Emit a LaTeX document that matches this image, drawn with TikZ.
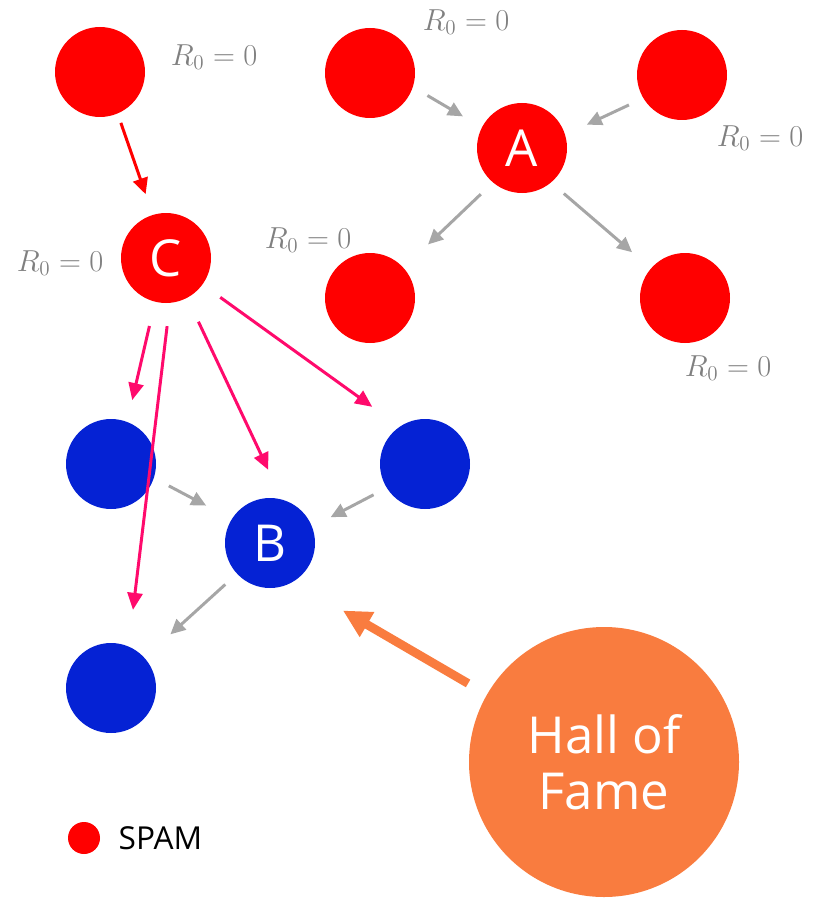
\documentclass[tikz,border=0pt]{standalone}
\usepackage{fontspec}
\setmainfont{Open Sans}
\usetikzlibrary{arrows.meta,positioning}
\definecolor{spamred}{HTML}{FF0000}
\definecolor{goodblue}{HTML}{0522D4}
\definecolor{linkpink}{HTML}{FF0A6C}
\definecolor{hoforange}{HTML}{F97C3F}
\definecolor{arrgray}{HTML}{A6A6A6}
\definecolor{lblgray}{HTML}{808080}
\begin{document}
\begin{tikzpicture}[
    spam/.style={circle, fill=spamred, minimum size=1.8cm, inner sep=0pt, outer sep=0pt, text=white, font=\fontsize{29}{32}\selectfont},
    good/.style={circle, fill=goodblue, minimum size=1.8cm, inner sep=0pt, outer sep=0pt, text=white, font=\fontsize{29}{32}\selectfont},
    rlbl/.style={text=lblgray, font=\fontsize{17.5}{20}\selectfont, inner sep=0pt},
    grayarr/.style={-{Triangle[length=0.3cm, width=0.28cm]}, line width=1.7pt, arrgray},
    redarr/.style={-{Triangle[length=0.32cm, width=0.3cm]}, line width=1.7pt, spamred},
    pinkarr/.style={-{Triangle[length=0.34cm, width=0.3cm]}, line width=1.7pt, linkpink}
]
\useasboundingbox (0,0) rectangle (16.26,-17.96);

% spam nodes
\node[spam] (tl) at (2.00,-1.44) {};
\node[spam] (t2) at (7.40,-1.46) {};
\node[spam] (t3) at (13.64,-1.50) {};
\node[spam] (A) at (10.44,-2.96) {A};
\node[spam] (C) at (3.32,-5.16) {C};
\node[spam] (bl) at (7.40,-5.96) {};
\node[spam] (br) at (13.70,-5.96) {};

% good nodes
\node[good] (bleft) at (2.22,-9.28) {};
\node[good] (bright) at (8.50,-9.28) {};
\node[good] (B) at (5.40,-10.86) {B};
\node[good] (bbottom) at (2.22,-13.76) {};

\node[circle, fill=hoforange, minimum size=5.4cm, inner sep=0pt, outer sep=0pt, text=white, align=center, font=\fontsize{29}{32}\selectfont] (hof) at (12.08,-15.24) {Hall of\\Fame};

% labels
\node[rlbl] (r1) at (4.28,-1.14) {$R_0=0$};
\node[rlbl] (r2) at (9.32,-0.44) {$R_0=0$};
\node[rlbl] (r3) at (15.20,-2.76) {$R_0=0$};
\node[rlbl] (r4) at (6.16,-4.80) {$R_0=0$};
\node[rlbl] (r5) at (1.20,-5.26) {$R_0=0$};
\node[rlbl] (r6) at (14.56,-7.36) {$R_0=0$};

% legend
\node[circle, fill=spamred, minimum size=0.64cm, inner sep=0pt] (key) at (1.68,-16.76) {};
\node[right=0.36cm of key, inner sep=0pt, font=\fontsize{18}{20}\selectfont] (keytxt) {SPAM};

% links
\draw[redarr, shorten <=0.20cm, shorten >=0.44cm] (tl.-67) -- (C.107);
\draw[grayarr, shorten <=0.34cm, shorten >=0.44cm] (t2.-18) -- (A.153);
\draw[grayarr, shorten <=0.32cm, shorten >=0.48cm] (t3.-149) -- (A.17);
\draw[grayarr, shorten <=0.34cm, shorten >=0.68cm] (A.-130) -- (bl.42);
\draw[grayarr, shorten <=0.34cm, shorten >=0.50cm] (A.-50) -- (br.139);
\draw[pinkarr, shorten <=0.50cm, shorten >=0.45cm] (C.-104.7) -- (bleft.69);
\draw[pinkarr, shorten <=0.47cm, shorten >=0.74cm] (C.-85.2) -- (bbottom.67);
\draw[pinkarr, shorten <=0.53cm, shorten >=0.66cm] (C.-62.6) -- (B.74.5);
\draw[pinkarr, shorten <=0.44cm, shorten >=0.68cm] (C.-36.9) -- (bright.124.3);
\draw[grayarr, shorten <=0.34cm, shorten >=0.58cm] (bleft.-18) -- (B.148);
\draw[grayarr, shorten <=0.30cm, shorten >=0.42cm] (bright.-148) -- (B.21);
\draw[grayarr, shorten <=0.32cm, shorten >=0.70cm] (B.-137) -- (bbottom.42.5);
\draw[-{Triangle[length=0.56cm, width=0.54cm]}, line width=5pt, hoforange, shorten <=0.44cm, shorten >=1.15cm] (hof.150.9) -- (B.-59.7);
\end{tikzpicture}
\end{document}
